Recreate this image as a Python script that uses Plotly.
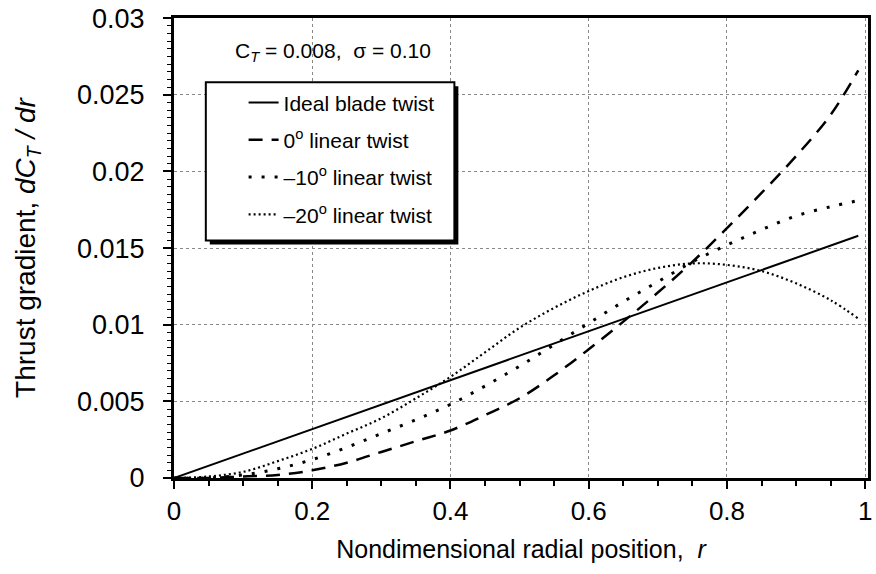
import plotly.graph_objects as go

r = [0, 0.05, 0.1, 0.15, 0.2, 0.25, 0.3, 0.35, 0.4, 0.45, 0.5, 0.55, 0.6, 0.65, 0.7, 0.75, 0.8, 0.85, 0.9, 0.95, 0.99]
ideal = [0, 0.0008, 0.0016, 0.0024, 0.0032, 0.0040, 0.0048, 0.0056, 0.0064, 0.0072, 0.0080, 0.0088, 0.0096, 0.0104, 0.0112, 0.0120, 0.0128, 0.0136, 0.0144, 0.0152, 0.0158]
twist0 = [0, 0.0000, 0.0001, 0.0002, 0.0005, 0.0010, 0.0017, 0.0024, 0.0031, 0.0041, 0.0052, 0.0067, 0.0084, 0.0102, 0.0121, 0.0141, 0.0163, 0.0186, 0.0210, 0.0237, 0.0266]
twist10 = [0, 0.0000, 0.0002, 0.0006, 0.0012, 0.0020, 0.0029, 0.0038, 0.0048, 0.0060, 0.0073, 0.0087, 0.0101, 0.0115, 0.0128, 0.0141, 0.0152, 0.0162, 0.0171, 0.0177, 0.0181]
twist20 = [0, 0.0001, 0.0004, 0.0011, 0.0019, 0.0029, 0.0039, 0.0052, 0.0066, 0.0082, 0.0098, 0.0111, 0.0122, 0.0131, 0.0137, 0.0140, 0.0139, 0.0135, 0.0127, 0.0116, 0.0104]

names = ["Ideal blade twist", "0<sup>o</sup> linear twist", "\u201310<sup>o</sup> linear twist", "\u201320<sup>o</sup> linear twist"]

# plot-area pixel geometry (for placing paper-referenced annotations / legend box)
L, R, T, B = 174, 872, 13, 478
def px(x):
    return (x - L) / (R - L)
def py(y):
    return (B - y) / (B - T)

fig = go.Figure()
fig.add_trace(go.Scatter(x=r, y=ideal, mode="lines", name=names[0], legendgroup="a",
                         line=dict(color="black", width=2)))
fig.add_trace(go.Scatter(x=r, y=twist0, mode="lines", name=names[1], line_shape="spline", legendgroup="b",
                         line=dict(color="black", width=2.5, dash="14px,9px")))
fig.add_trace(go.Scatter(x=r, y=twist10, mode="lines", name=names[2], line_shape="spline", legendgroup="c",
                         line=dict(color="black", width=3, dash="3px,10px")))
fig.add_trace(go.Scatter(x=r, y=twist20, mode="lines", name=names[3], line_shape="spline", legendgroup="d",
                         line=dict(color="black", width=2.2, dash="2px,3px")))

# legend box with drop shadow
fig.add_shape(type="rect", xref="paper", yref="paper",
              x0=px(210), x1=px(460), y0=py(242), y1=py(82),
              fillcolor="black", line=dict(width=0), layer="above")
fig.add_shape(type="rect", xref="paper", yref="paper",
              x0=px(206), x1=px(456), y0=py(238), y1=py(78),
              fillcolor="white", line=dict(width=2, color="black"), layer="above")

fig.add_annotation(text="C<sub><i>T</i></sub> = 0.008,  \u03c3 = 0.10", xref="paper", yref="paper",
                   x=px(334), y=py(47), showarrow=False,
                   font=dict(size=21, color="black"), xanchor="center", yanchor="middle")

fig.update_layout(
    width=876, height=574,
    margin=dict(l=L, r=876 - R, t=T, b=574 - B),
    paper_bgcolor="white", plot_bgcolor="white",
    font=dict(family="Liberation Sans, Arial", color="black"),
    legend=dict(x=px(244), y=py(78), xanchor="left", yanchor="top",
                bgcolor="rgba(0,0,0,0)", borderwidth=0,
                font=dict(size=21), tracegroupgap=7),
    showlegend=True,
)
fig.update_xaxes(range=[0, 1.004], tickvals=[0, 0.2, 0.4, 0.6, 0.8, 1],
                 ticktext=["0", "0.2", "0.4", "0.6", "0.8", "1"],
                 ticks="outside", ticklen=8, tickwidth=2, tickcolor="black",
                 minor=dict(dtick=0.05, ticks="outside", ticklen=5, tickwidth=1.5, tickcolor="black", showgrid=False),
                 showline=True, linewidth=3, linecolor="black", mirror=True,
                 showgrid=True, gridcolor="#888", griddash="dot", gridwidth=1,
                 tickfont=dict(size=26), zeroline=False, ticklabeloverflow="allow",
                 title=dict(text="Nondimensional radial position,  <i>r</i>", font=dict(size=25), standoff=16))
fig.update_yaxes(range=[0, 0.03001], tickvals=[0, 0.005, 0.01, 0.015, 0.02, 0.025, 0.03],
                 ticktext=["0", "0.005", "0.01", "0.015", "0.02", "0.025", "0.03"],
                 ticks="outside", ticklen=8, tickwidth=2, tickcolor="black",
                 minor=dict(dtick=0.0005, ticks="outside", ticklen=4, tickwidth=1.2, tickcolor="black", showgrid=False),
                 showline=True, linewidth=3, linecolor="black", mirror=True,
                 showgrid=True, gridcolor="#888", griddash="dot", gridwidth=1,
                 tickfont=dict(size=27), zeroline=False, ticklabelstandoff=13, ticklabeloverflow="allow",
                 title=dict(text="Thrust gradient, <i>dC</i><sub><i>T</i></sub><i> / dr</i>", font=dict(size=28), standoff=34))

fig.write_html("out.html")
